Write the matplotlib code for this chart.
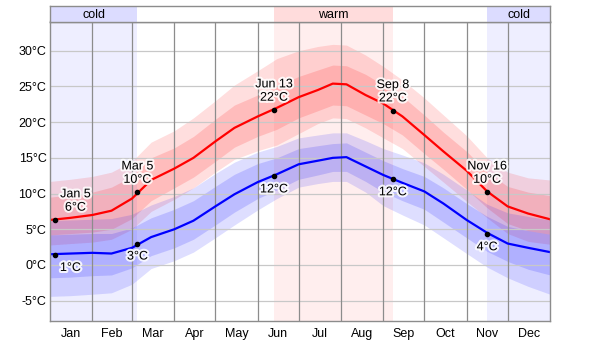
import numpy as np
import matplotlib
matplotlib.use("Agg")
import matplotlib.pyplot as plt
import matplotlib.patheffects as pe

plt.rcParams['font.family'] = ['Liberation Sans', 'DejaVu Sans']

# ---- data (day of year, leap year) ----
days = [0, 15, 31, 45, 60, 74, 91, 105, 121, 135, 152, 166, 182, 196, 207, 217,
        231, 244, 258, 274, 288, 305, 320, 335, 350, 366]

hi50 = [6.3, 6.6, 7.0, 7.6, 9.3, 11.9, 13.5, 15.0, 17.3, 19.2, 20.8, 22.0, 23.5,
        24.5, 25.4, 25.3, 23.8, 22.6, 20.8, 18.2, 15.9, 13.2, 10.3, 8.2, 7.2, 6.4]
hi25 = [4.2, 4.4, 4.6, 5.0, 6.5, 9.0, 10.8, 12.3, 14.5, 16.5, 18.0, 19.0, 20.6,
        21.6, 22.4, 22.3, 21.0, 19.8, 18.2, 15.6, 13.4, 10.6, 8.0, 5.8, 4.8, 4.3]
hi75 = [9.5, 9.8, 10.2, 10.9, 12.4, 15.0, 16.4, 18.0, 20.4, 22.4, 23.8, 25.0, 26.4,
        27.3, 28.0, 27.9, 26.7, 25.2, 23.6, 21.0, 18.6, 15.9, 13.0, 11.0, 10.2, 9.7]
hi10 = [2.8, 3.0, 3.2, 3.6, 5.0, 7.5, 9.2, 10.8, 13.0, 14.8, 16.0, 16.8, 18.4,
        19.8, 20.6, 20.5, 19.2, 17.8, 16.3, 13.8, 11.6, 8.9, 6.6, 4.4, 3.3, 2.9]
hi90 = [11.7, 12.0, 12.4, 13.0, 14.5, 17.2, 18.8, 20.6, 23.0, 25.2, 27.2, 28.9, 30.0,
        30.6, 30.9, 30.8, 29.4, 27.8, 25.9, 23.4, 21.0, 18.1, 15.0, 13.0, 12.2, 11.9]

lo50 = [1.5, 1.6, 1.7, 1.6, 2.4, 3.9, 5.0, 6.2, 8.2, 9.9, 11.6, 12.7, 14.1,
        14.6, 15.0, 15.1, 13.8, 12.6, 11.5, 10.3, 8.6, 6.3, 4.5, 3.0, 2.4, 1.8]
lo25 = [-1.8, -1.7, -1.5, -1.4, -0.4, 1.3, 2.4, 3.6, 5.6, 7.4, 9.3, 10.5, 12.0,
        12.6, 13.1, 13.1, 11.7, 10.2, 9.0, 7.8, 6.0, 3.8, 1.9, 0.5, -0.6, -1.4]
lo75 = [4.2, 4.3, 4.4, 4.4, 5.2, 6.6, 7.8, 9.0, 11.0, 12.7, 14.2, 15.0, 16.3,
        16.7, 17.0, 17.1, 15.8, 14.6, 13.5, 12.4, 10.8, 8.6, 6.8, 5.4, 4.8, 4.3]
lo10 = [-4.4, -4.3, -4.1, -3.9, -2.7, -0.5, 0.6, 1.8, 3.8, 5.6, 7.7, 9.3, 10.9,
        11.4, 11.7, 11.7, 10.2, 8.3, 7.0, 5.6, 3.8, 1.6, -0.3, -1.8, -3.0, -4.1]
lo90 = [6.2, 6.3, 6.4, 6.5, 7.1, 8.4, 9.6, 10.8, 12.8, 14.4, 15.8, 16.6, 17.8,
        18.2, 18.5, 18.5, 17.4, 16.3, 15.4, 14.3, 12.7, 10.5, 8.5, 7.3, 6.8, 6.3]

# annotated days
ann_days = [4, 64, 164, 251, 320]
ann_names = ["Jan 5", "Mar 5", "Jun 13", "Sep 8", "Nov 16"]
ann_hi = [6.3, 10.2, 21.7, 21.6, 10.2]
ann_lo = [1.4, 3.0, 12.4, 12.0, 4.3]

# seasons
season_names = ["cold", "warm", "cold"]
season_start = [0, 164, 320]
season_end = [64, 251, 366]

month_starts = [0, 31, 60, 91, 121, 152, 182, 213, 244, 274, 305, 335, 366]
month_names = ["Jan", "Feb", "Mar", "Apr", "May", "Jun", "Jul", "Aug", "Sep",
               "Oct", "Nov", "Dec"]
yticks = [-5, 0, 5, 10, 15, 20, 25, 30]

bg_col = {"cold": "#eeeeff", "warm": "#ffeeee"}
head_col = {"cold": "#dcdcff", "warm": "#ffdcdc"}

W, H = 600, 344
fig = plt.figure(figsize=(6, 3.44), dpi=100)
ax = fig.add_axes([50 / W, (H - 321) / H, 500 / W, 299.5 / H])
hax = fig.add_axes([50 / W, (H - 21.5) / H, 500 / W, 15.5 / H])

# header strip
hax.set_xlim(0, 366)
hax.set_ylim(0, 1)
for name, s, e in zip(season_names, season_start, season_end):
    hax.axvspan(s, e, color=head_col[name], lw=0)
    hax.text((s + e) / 2, 0.45, name, ha='center', va='center', fontsize=9)
hax.set_xticks([])
hax.set_yticks([])
for sp in hax.spines.values():
    sp.set_color('#8c8c8c')
    sp.set_linewidth(1)

# main plot
ax.set_xlim(0, 366)
ax.set_ylim(-7.85, 34.1)
for name, s, e in zip(season_names, season_start, season_end):
    ax.axvspan(s, e, color=bg_col[name], lw=0, zorder=0)

ax.fill_between(days, hi10, hi90, color='red', alpha=0.13, lw=0, zorder=1)
ax.fill_between(days, hi25, hi75, color='red', alpha=0.15, lw=0, zorder=1)
ax.fill_between(days, lo10, lo90, color='blue', alpha=0.13, lw=0, zorder=1)
ax.fill_between(days, lo25, lo75, color='blue', alpha=0.15, lw=0, zorder=1)

for y in yticks:
    ax.axhline(y, color='#c8c8c8', lw=0.9, zorder=1.5)
for m in month_starts[1:-1]:
    ax.axvline(m, color='#8c8c8c', lw=0.9, zorder=1.5)

ax.plot(days, hi50, color='#ff0000', lw=1.6, zorder=3)
ax.plot(days, lo50, color='#0000ff', lw=1.6, zorder=3)
ax.plot(ann_days, ann_hi, 'o', color='black', ms=3, zorder=4)
ax.plot(ann_days, ann_lo, 'o', color='black', ms=3, zorder=4)

halo = [pe.withStroke(linewidth=3, foreground='white', alpha=0.85)]
for i, (d, nm, h, l) in enumerate(zip(ann_days, ann_names, ann_hi, ann_lo)):
    dx_hi = 20 if i == 0 else 0
    dx_lo = 15 if i == 0 else 0
    ax.annotate(f"{nm}\n{round(h)}°C", (d, h), xytext=(dx_hi, 19),
                textcoords='offset pixels', ha='center', va='center',
                multialignment='center', fontsize=9, linespacing=1.15,
                path_effects=halo, zorder=5)
    ax.annotate(f"{round(l)}°C", (d, l), xytext=(dx_lo, -13),
                textcoords='offset pixels', ha='center', va='center',
                fontsize=9, path_effects=halo, zorder=5)

ax.set_yticks(yticks)
ax.set_yticklabels([f"{t}°C" for t in yticks])
mids = [(a + b) / 2 for a, b in zip(month_starts[:-1], month_starts[1:])]
ax.set_xticks(mids)
ax.set_xticklabels(month_names)
ax.tick_params(length=0, labelsize=9)
ax.tick_params(axis='x', pad=5)
ax.tick_params(axis='y', pad=2.5)
for sp in ax.spines.values():
    sp.set_color('#8c8c8c')
    sp.set_linewidth(1)
    sp.set_zorder(6)

fig.savefig("out.png", dpi=100)
